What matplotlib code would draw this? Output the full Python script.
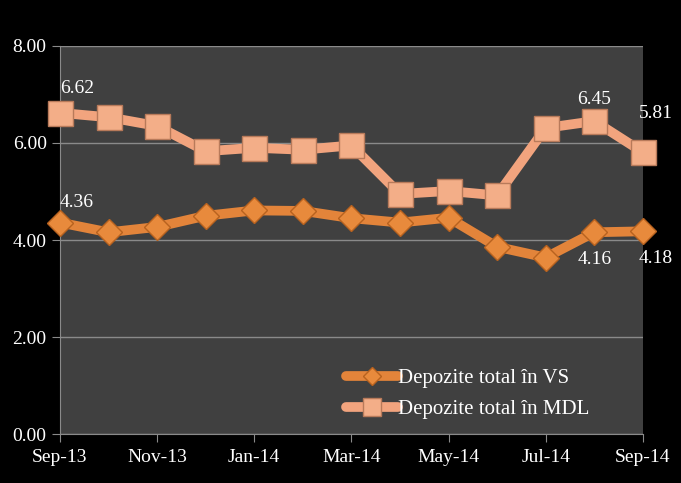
import matplotlib.pyplot as plt
import numpy as np

# data
months = ['Sep-13', 'Oct-13', 'Nov-13', 'Dec-13', 'Jan-14', 'Feb-14', 'Mar-14',
          'Apr-14', 'May-14', 'Jun-14', 'Jul-14', 'Aug-14', 'Sep-14']
vs_values = [4.36, 4.16, 4.27, 4.50, 4.61, 4.60, 4.45, 4.36, 4.46, 3.86, 3.64, 4.16, 4.18]
mdl_values = [6.62, 6.53, 6.35, 5.83, 5.90, 5.86, 5.95, 4.95, 5.01, 4.92, 6.31, 6.45, 5.81]
vs_label = 'Depozite total în VS'
mdl_label = 'Depozite total în MDL'

plt.rcParams['font.family'] = ['Liberation Serif', 'DejaVu Serif']

fig = plt.figure(figsize=(6.81, 4.83), dpi=100, facecolor='black')
ax = fig.add_axes([0.088, 0.101, 0.856, 0.804])
ax.set_facecolor('#404040')

x = np.arange(len(months))
vs_color = '#E3843A'
mdl_color = '#F2A47E'

ax.plot(x, vs_values, color=vs_color, linewidth=7, marker='D', markersize=13,
        markerfacecolor='#E88A3C', markeredgecolor='#B8621F', markeredgewidth=1,
        label=vs_label, zorder=3, solid_capstyle='round', clip_on=False)
ax.plot(x, mdl_values, color=mdl_color, linewidth=7, marker='s', markersize=18,
        markerfacecolor='#F3AE88', markeredgecolor='#B87A5A', markeredgewidth=1,
        label=mdl_label, zorder=4, solid_capstyle='round', clip_on=False)

# data labels
txt = dict(color='white', fontsize=14)
ax.annotate(f'{mdl_values[0]:.2f}', (x[0], mdl_values[0]), xytext=(0, 14),
            textcoords='offset points', ha='left', **txt)
ax.annotate(f'{vs_values[0]:.2f}', (x[0], vs_values[0]), xytext=(0, 11),
            textcoords='offset points', ha='left', **txt)
ax.annotate(f'{mdl_values[11]:.2f}', (x[11], mdl_values[11]), xytext=(0, 12),
            textcoords='offset points', ha='center', **txt)
ax.annotate(f'{mdl_values[12]:.2f}', (x[12], mdl_values[12]), xytext=(-3, 22),
            textcoords='offset points', ha='left', va='bottom', **txt)
ax.annotate(f'{vs_values[11]:.2f}', (x[11], vs_values[11]), xytext=(0, -23),
            textcoords='offset points', ha='center', **txt)
ax.annotate(f'{vs_values[12]:.2f}', (x[12], vs_values[12]), xytext=(-3, -23),
            textcoords='offset points', ha='left', **txt)

ax.set_xlim(0, 12)
ax.set_ylim(0, 8)
ax.set_yticks([0, 2, 4, 6, 8])
ax.set_yticklabels([f'{v:.2f}' for v in [0, 2, 4, 6, 8]])
ax.set_xticks(x[::2])
ax.set_xticklabels(months[::2])
ax.tick_params(colors='#8a8a8a', labelcolor='white', labelsize=14, length=6)
ax.tick_params(axis='x', pad=5)
ax.grid(axis='y', color='#8a8a8a', linewidth=1)
ax.set_axisbelow(True)
for side in ['top', 'right']:
    ax.spines[side].set_visible(False)
for side in ['left', 'bottom']:
    ax.spines[side].set_color('#8a8a8a')

leg = ax.legend(loc='lower right', bbox_to_anchor=(0.94, -0.01), frameon=False,
                fontsize=15, labelcolor='white', handlelength=2.5,
                handletextpad=0.0, labelspacing=0.55, markerscale=0.7)

plt.savefig('out.png', dpi=100, facecolor='black')
